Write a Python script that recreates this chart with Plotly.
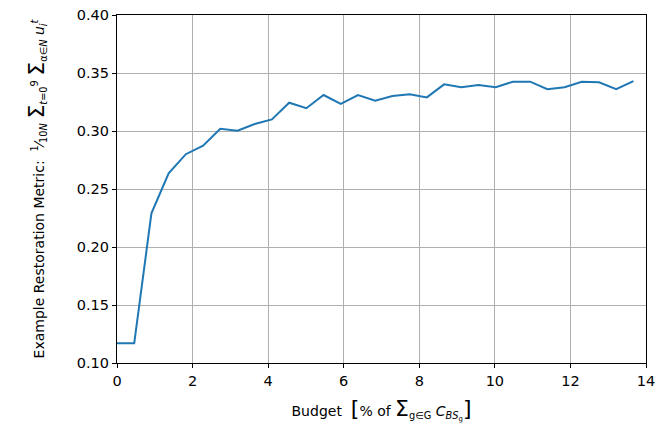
import plotly.graph_objects as go

# Budget levels (% of total base-station cost) and the restoration metric
budget_step = 13.667 / 30
budget = [round(i * budget_step, 4) for i in range(31)]
metric = [0.117, 0.117, 0.229, 0.2635, 0.280, 0.2873, 0.302, 0.3003, 0.306,
          0.310, 0.3244, 0.3196, 0.331, 0.3233, 0.331, 0.3262, 0.3302,
          0.3316, 0.329, 0.3402, 0.3377, 0.3397, 0.3377, 0.3425, 0.3425,
          0.336, 0.3377, 0.3425, 0.342, 0.336, 0.343]

x_ticks = [0, 2, 4, 6, 8, 10, 12, 14]
y_ticks = [0.10, 0.15, 0.20, 0.25, 0.30, 0.35, 0.40]

fig = go.Figure()
fig.add_trace(go.Scatter(x=budget, y=metric, mode="lines",
                         line=dict(color="#1f77b4", width=2),
                         showlegend=False))

font = dict(family="DejaVu Sans", size=14.5, color="#000000")
title_font = dict(family="DejaVu Sans", size=14, color="#000000")
big = "<span style='font-size:22px'>{}</span>"
axis_common = dict(showgrid=True, gridcolor="#b0b0b0", gridwidth=1,
                   showline=True, linecolor="#000000", linewidth=1.2,
                   mirror=True, ticks="outside", ticklen=4, tickwidth=1,
                   tickcolor="#000000", zeroline=False, tickfont=font,
                   ticklabeloverflow="allow")

x_title = ("Budget  " + big.format("[") + "% of " + big.format("Σ")
           + "<sub>g∈G</sub> <i>C</i><sub><i>BS</i><sub>g</sub></sub>"
           + big.format("]"))
y_title = ("Example Restoration Metric:  "
           "<sup>1</sup>⁄<sub>10<i>N</i></sub> "
           + big.format("Σ") + "<sub><i>t</i>=0</sub><sup>9</sup> "
           + big.format("Σ") + "<sub>α∈<i>N</i></sub> "
           "<i>u</i><sub><i>i</i></sub><sup><i>t</i></sup>")

fig.update_layout(
    width=658, height=434,
    margin=dict(l=117, r=3, t=15, b=71),
    plot_bgcolor="white", paper_bgcolor="white",
    font=font,
    xaxis=dict(range=[0, 14], tickvals=x_ticks,
               ticktext=[str(v) for v in x_ticks],
               title=dict(text=x_title, standoff=18, font=title_font),
               **axis_common),
    yaxis=dict(range=[0.10, 0.40], tickvals=y_ticks,
               ticktext=[f"{v:.2f}" for v in y_ticks],
               title=dict(text=y_title, standoff=28, font=title_font),
               **axis_common),
)

fig.write_html("out.html")
